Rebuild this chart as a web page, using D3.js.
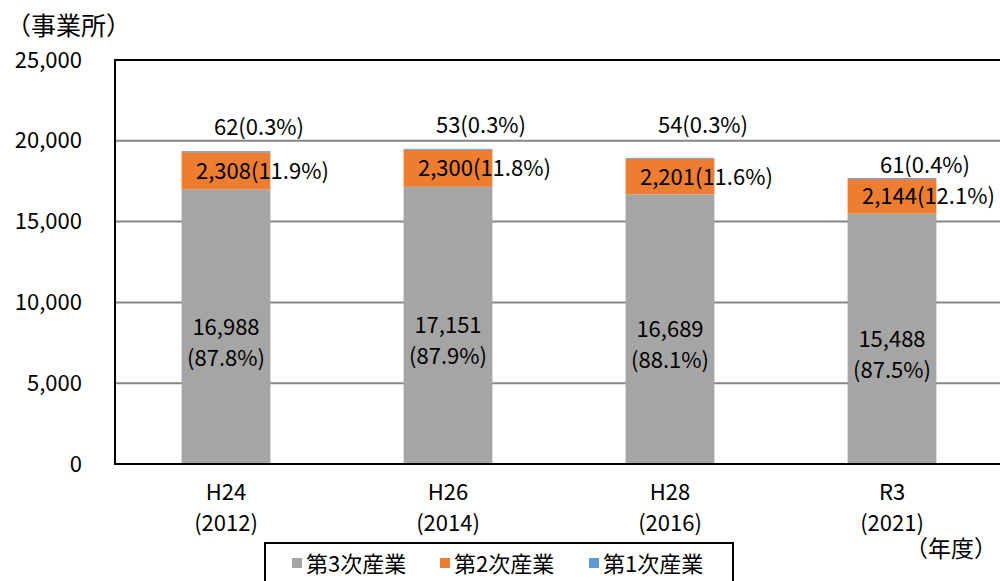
<!DOCTYPE html>
<html>
<head>
<meta charset="utf-8">
<script src="https://cdn.jsdelivr.net/npm/d3@7"></script>
<style>
  body { margin: 0; background: #fff; }
  text { font-family: "Noto Sans CJK JP", sans-serif; fill: #000; }
</style>
</head>
<body>
<svg id="canvas"></svg>
<script>
// data
let years = ["H24", "H26", "H28", "R3"]
let yearsWestern = ["(2012)", "(2014)", "(2016)", "(2021)"]
let tertiary = [16988, 17151, 16689, 15488]
let secondary = [2308, 2300, 2201, 2144]
let primary = [62, 53, 54, 61]
let tertiaryPct = ["87.8%", "87.9%", "88.1%", "87.5%"]
let secondaryPct = ["11.9%", "11.8%", "11.6%", "12.1%"]
let primaryPct = ["0.3%", "0.3%", "0.3%", "0.4%"]
let seriesNames = ["第3次産業", "第2次産業", "第1次産業"]
let yTicks = [0, 5000, 10000, 15000, 20000, 25000]

let width = 1000
let height = 581
let colors = ["#a5a5a5", "#ed7d31", "#5b9bd5"]
let fontSize = 22

// top labels were nudged by hand in the original
let primaryLift = [24, 24, 33, 13]

let canvas = d3.select("#canvas")
canvas.attr("width", width).attr("height", height)

let plot = { left: 115, top: 60, right: 1003, bottom: 464 }

let x = d3.scaleBand()
          .domain(years)
          .range([plot.left, plot.right])
          .paddingInner(0.6)
          .paddingOuter(0.3)

let y = d3.scaleLinear()
          .domain([0, 25000])
          .range([plot.bottom, plot.top])

let fmt = d3.format(",")

// grid lines
canvas.append("g")
      .selectAll("line")
      .data(yTicks.filter(t => t > 0 && t < 25000))
      .enter().append("line")
      .attr("x1", plot.left).attr("x2", plot.right)
      .attr("y1", t => y(t)).attr("y2", t => y(t))
      .attr("stroke", "#868686")
      .attr("stroke-width", 2)

// stack the three series
let rows = years.map((yr, i) => ({ year: yr, t: tertiary[i], s: secondary[i], p: primary[i] }))
let stack = d3.stack().keys(["t", "s", "p"])(rows)

canvas.append("g")
      .selectAll("g")
      .data(stack)
      .enter().append("g")
      .attr("fill", (d, i) => colors[i])
      .selectAll("rect")
      .data(d => d)
      .enter().append("rect")
      .attr("x", d => x(d.data.year))
      .attr("width", x.bandwidth())
      .attr("y", d => y(d[1]))
      .attr("height", d => y(d[0]) - y(d[1]))

// frame: top, left, bottom
canvas.append("path")
      .attr("d", `M${plot.right},${plot.top}H${plot.left}V${plot.bottom}H${plot.right}`)
      .attr("fill", "none")
      .attr("stroke", "#000")
      .attr("stroke-width", 2)

// y axis labels
let yAxis = d3.axisLeft(y)
              .tickValues(yTicks)
              .tickFormat(fmt)
              .tickSize(0)
              .tickPadding(33)
let yg = canvas.append("g")
               .attr("transform", `translate(${plot.left},0)`)
               .call(yAxis)
yg.select(".domain").remove()
yg.selectAll("text")
  .attr("font-size", fontSize)
  .attr("font-family", "'Noto Sans CJK JP', sans-serif")
  .attr("fill", "#000")

canvas.append("text")
      .attr("x", 6).attr("y", 35)
      .attr("font-size", 25)
      .text("（事業所）")

// x axis labels
let xg = canvas.append("g")
years.forEach((yr, i) => {
  let cx = x(yr) + x.bandwidth() / 2
  xg.append("text").attr("x", cx).attr("y", 500)
    .attr("text-anchor", "middle").attr("font-size", fontSize).text(yr)
  xg.append("text").attr("x", cx).attr("y", 531)
    .attr("text-anchor", "middle").attr("font-size", fontSize).text(yearsWestern[i])
})
canvas.append("text")
      .attr("x", 905).attr("y", 557)
      .attr("font-size", 23)
      .text("（年度）")

// data labels
let labels = canvas.append("g").attr("font-size", fontSize)
years.forEach((yr, i) => {
  let cx = x(yr) + x.bandwidth() / 2
  let mid3 = (y(0) + y(tertiary[i])) / 2
  labels.append("text").attr("x", cx).attr("y", mid3 + 8)
        .attr("text-anchor", "middle").text(fmt(tertiary[i]))
  labels.append("text").attr("x", cx).attr("y", mid3 + 39)
        .attr("text-anchor", "middle").text("(" + tertiaryPct[i] + ")")

  let mid2 = (y(tertiary[i]) + y(tertiary[i] + secondary[i])) / 2
  labels.append("text").attr("x", cx - 30).attr("y", mid2 + 8)
        .text(fmt(secondary[i]) + "(" + secondaryPct[i] + ")")

  let top = y(tertiary[i] + secondary[i] + primary[i])
  labels.append("text").attr("x", cx + 33).attr("y", top - primaryLift[i] + 8)
        .attr("text-anchor", "middle").text(primary[i] + "(" + primaryPct[i] + ")")
})

// legend
let legend = canvas.append("g")
legend.append("rect")
      .attr("x", 265).attr("y", 543)
      .attr("width", 468).attr("height", 50)
      .attr("fill", "#fff").attr("stroke", "#000").attr("stroke-width", 2)
let legendX = [292, 440, 589]
seriesNames.forEach((name, i) => {
  legend.append("rect")
        .attr("x", legendX[i]).attr("y", 558)
        .attr("width", 10).attr("height", 10)
        .attr("fill", colors[i])
  legend.append("text")
        .attr("x", legendX[i] + 14).attr("y", 572)
        .attr("font-size", 22)
        .text(name)
})
</script>
</body>
</html>
